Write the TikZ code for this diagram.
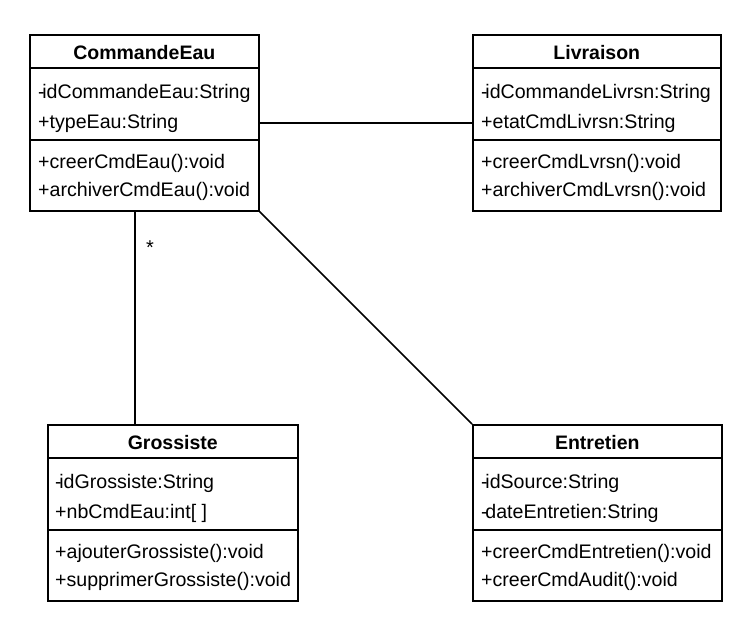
\documentclass[tikz,border=0pt]{standalone}
\usepackage{fontspec}
\setmainfont{Liberation Sans}
\usepackage{tikz}
\usetikzlibrary{positioning,calc}
\tikzset{
    classbox/.style={rectangle, draw=black, fill=white, line width=1.6pt, anchor=north west, inner sep=0pt},
    classname/.style={font=\fontsize{19.5}{22}\selectfont\bfseries, anchor=base, inner sep=0pt},
    member/.style={font=\fontsize{19.6}{22}\selectfont, anchor=base west, inner sep=0pt},
    sepline/.style={line width=1.6pt, black},
    assoc/.style={line width=1.6pt, black},
}

\begin{document}
\begin{tikzpicture}[x=1pt, y=-1pt]
    \useasboundingbox (0,0) rectangle (746,630);
    % Class boxes
    \node[classbox, minimum width=229pt, minimum height=176pt] (eau) at (29,34) {};
    \node[classbox, minimum width=248pt, minimum height=176pt] (livr) at (472,34) {};
    \node[classbox, minimum width=250pt, minimum height=176pt] (gros) at (47,424) {};
    \node[classbox, minimum width=249pt, minimum height=176pt] (entr) at (472,424) {};
    % Compartment lines
    \foreach \c in {eau,livr,gros,entr} {
        \draw[sepline] ($(\c.north west)+(0,34)$) -- ($(\c.north east)+(0,34)$);
        \draw[sepline] ($(\c.north west)+(0,106)$) -- ($(\c.north east)+(0,106)$);
    }
    % CommandeEau
    \node[classname] (eau-n) at ($(eau.north)+(0,25)$) {CommandeEau};
    \node[member] (eau-a1) at ($(eau.north west)+(9,64)$) {-\kern-.12em idCommandeEau:String};
    \node[member] (eau-a2) at ($(eau.north west)+(9,94)$) {+typeEau:String};
    \node[member] (eau-m1) at ($(eau.north west)+(9,134)$) {+creerCmdEau():void};
    \node[member] (eau-m2) at ($(eau.north west)+(9,162)$) {+archiverCmdEau():void};
    % Livraison
    \node[classname] (livr-n) at ($(livr.north)+(0,25)$) {Livraison};
    \node[member] (livr-a1) at ($(livr.north west)+(9,64)$) {-\kern-.12em idCommandeLivrsn:String};
    \node[member] (livr-a2) at ($(livr.north west)+(9,94)$) {+etatCmdLivrsn:String};
    \node[member] (livr-m1) at ($(livr.north west)+(9,134)$) {+creerCmdLvrsn():void};
    \node[member] (livr-m2) at ($(livr.north west)+(9,162)$) {+archiverCmdLvrsn():void};
    % Grossiste
    \node[classname] (gros-n) at ($(gros.north)+(0,25)$) {Grossiste};
    \node[member] (gros-a1) at ($(gros.north west)+(8,64)$) {-\kern-.12em idGrossiste:String};
    \node[member] (gros-a2) at ($(gros.north west)+(8,94)$) {+nbCmdEau:int[ ]};
    \node[member] (gros-m1) at ($(gros.north west)+(8,134)$) {+ajouterGrossiste():void};
    \node[member] (gros-m2) at ($(gros.north west)+(8,162)$) {+supprimerGrossiste():void};
    % Entretien
    \node[classname] (entr-n) at ($(entr.north)+(0,25)$) {Entretien};
    \node[member] (entr-a1) at ($(entr.north west)+(9,64)$) {-\kern-.12em idSource:String};
    \node[member] (entr-a2) at ($(entr.north west)+(9,94)$) {-\kern-.12em dateEntretien:String};
    \node[member] (entr-m1) at ($(entr.north west)+(9,134)$) {+creerCmdEntretien():void};
    \node[member] (entr-m2) at ($(entr.north west)+(9,162)$) {+creerCmdAudit():void};
    % Associations
    \draw[assoc] (eau.east) -- (livr.west);
    \coordinate (eau-b) at ($(eau.south west)+(106,0)$);
    \draw[assoc] (eau-b) -- (eau-b |- gros.north);
    \draw[assoc] (eau.south east) -- (entr.north west);
    \node[font=\fontsize{20}{22}\selectfont, inner sep=0pt] (mult) at ($(eau-b)+(15,36)$) {*};
\end{tikzpicture}
\end{document}
